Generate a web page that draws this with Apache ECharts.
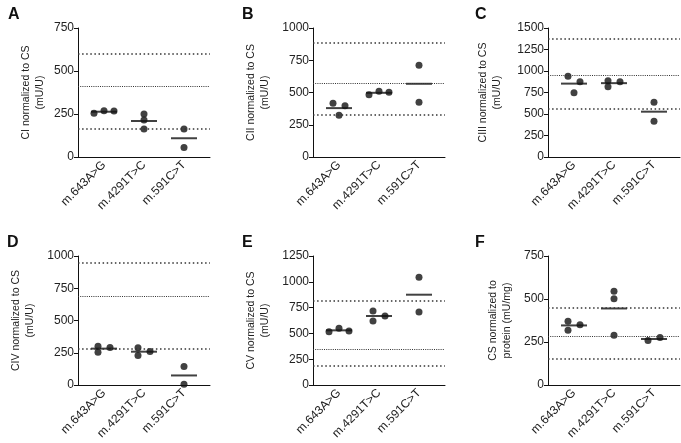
<!DOCTYPE html>
<html>
<head>
<meta charset="utf-8">
<script src="https://cdn.jsdelivr.net/npm/echarts@6/dist/echarts.min.js"></script>
<style>html,body{margin:0;padding:0;background:#fff}#c{width:681px;height:443px}</style>
</head>
<body>
<div id="c"></div>
<script>
// ---- data ----
const categories = ['m.643A>G', 'm.4291T>C', 'm.591C>T'];
const panelLetters = ['A', 'B', 'C', 'D', 'E', 'F'];
const yNames = [
  'CI normalized to CS\n(mU/U)',
  'CII normalized to CS\n(mU/U)',
  'CIII normalized to CS\n(mU/U)',
  'CIV normalized to CS\n(mU/U)',
  'CV normalized to CS\n(mU/U)',
  'CS normalized to\nprotein (mU/mg)'
];
const yMax = [750, 1000, 1500, 1000, 1250, 750];
const yInterval = 250;
// measured values per category
const ciValues   = [[254, 269, 267], [250, 215, 163], [163, 55]];
const ciiValues  = [[416, 323, 398], [483, 509, 501], [711, 424]];
const ciiiValues = [[940, 874, 746], [886, 816, 874], [638, 416]];
const civValues  = [[301, 254, 291], [288, 228, 259], [143, 5]];
const cvValues   = [[517, 549, 523], [717, 620, 669], [1043, 707]];
const csValues   = [[370, 318, 351], [545, 501, 289], [259, 276]];
// reference lines: [upper limit, control mean, lower limit]
const ciRefs   = [603, 409, 163];
const ciiRefs  = [884, 574, 331];
const ciiiRefs = [1380, 952, 564];
const civRefs  = [951, 686, 281];
const cvRefs   = [817, 346, 187];
const csRefs   = [448, 286, 150];

const panelValues = [ciValues, ciiValues, ciiiValues, civValues, cvValues, csValues];
const panelRefs = [ciRefs, ciiRefs, ciiiRefs, civRefs, cvRefs, csRefs];

// ---- layout / style (not data) ----
const jitter = [
  [[-0.25, 0, 0.25], [0, 0, 0], [0, 0]],
  [[-0.15, 0, 0.15], [-0.25, 0, 0.25], [0, 0]],
  [[-0.15, 0.15, 0], [-0.15, -0.15, 0.15], [0, 0]],
  [[-0.15, -0.15, 0.15], [-0.15, -0.15, 0.15], [0, 0]],
  [[-0.25, 0, 0.25], [-0.15, -0.15, 0.15], [0, 0]],
  [[-0.15, -0.15, 0.15], [0, 0, 0], [-0.15, 0.15]]
];
const gridPos = [
  {left: 78, top: 28}, {left: 313, top: 28}, {left: 548, top: 28},
  {left: 78, top: 256}, {left: 313, top: 256}, {left: 548, top: 256}
];
const nameGaps = [31, 41, 44, 41, 41, 34];
const letterPos = [
  {left: 3, top: 2}, {left: 237, top: 2}, {left: 470, top: 2},
  {left: 2, top: 230}, {left: 237, top: 230}, {left: 470, top: 230}
];
const FONT = '"Liberation Sans", Arial, sans-serif';
const INK = '#111';

const grid = [], xAxis = [], yAxis = [], series = [], title = [];
panelValues.forEach((vals, p) => {
  grid.push({left: gridPos[p].left, top: gridPos[p].top, width: 132, height: 129, containLabel: false});
  title.push({text: panelLetters[p], left: letterPos[p].left, top: letterPos[p].top,
    textStyle: {fontFamily: FONT, fontSize: 16, fontWeight: 'bold', color: INK}});
  xAxis.push({
    type: 'value', gridIndex: p, min: 0.35, max: 3.65,
    axisLine: {show: true, lineStyle: {color: INK, width: 1}},
    axisTick: {show: false},
    splitLine: {show: false},
    axisLabel: {
      customValues: [1, 2, 3], rotate: 45, margin: 6,
      fontFamily: FONT, fontSize: 12, color: '#222',
      formatter: v => categories[Math.round(v) - 1] || ''
    }
  });
  yAxis.push({
    type: 'value', gridIndex: p, min: 0, max: yMax[p], interval: yInterval,
    name: yNames[p], nameLocation: 'middle', nameRotate: 90, nameGap: nameGaps[p],
    nameTextStyle: {fontFamily: FONT, fontSize: 10.5, color: '#222', lineHeight: 14},
    axisLine: {show: true, lineStyle: {color: INK, width: 1}},
    axisTick: {show: true, length: 4, lineStyle: {color: INK}},
    splitLine: {show: false},
    axisLabel: {fontFamily: FONT, fontSize: 12, color: '#222', margin: 4,
      formatter: v => String(v)}
  });
  const pts = [];
  const means = [];
  vals.forEach((group, c) => {
    group.forEach((v, k) => pts.push([c + 1 + jitter[p][c][k], v]));
    means.push([c + 1, group.reduce((a, b) => a + b, 0) / group.length]);
  });
  series.push({
    type: 'scatter', xAxisIndex: p, yAxisIndex: p, data: means,
    symbol: 'rect', symbolSize: [26, 2], itemStyle: {color: INK}, z: 3, silent: true,
    markLine: {
      silent: true, symbol: ['none', 'none'], label: {show: false},
      data: panelRefs[p].map((r, k) => ({
        yAxis: r,
        lineStyle: k === 1
          ? {color: '#333', width: 1.2, type: [1, 1.2]}
          : {color: '#333', width: 1.5, type: [1.5, 2.6]}
      }))
    }
  });
  series.push({
    type: 'scatter', xAxisIndex: p, yAxisIndex: p, data: pts,
    symbol: 'circle', symbolSize: 7, itemStyle: {color: INK}, z: 4, silent: true
  });
});

const chart = echarts.init(document.getElementById('c'), null, {renderer: 'canvas'});
chart.setOption({animation: false, backgroundColor: '#fff', title, grid, xAxis, yAxis, series});
</script>
</body>
</html>
